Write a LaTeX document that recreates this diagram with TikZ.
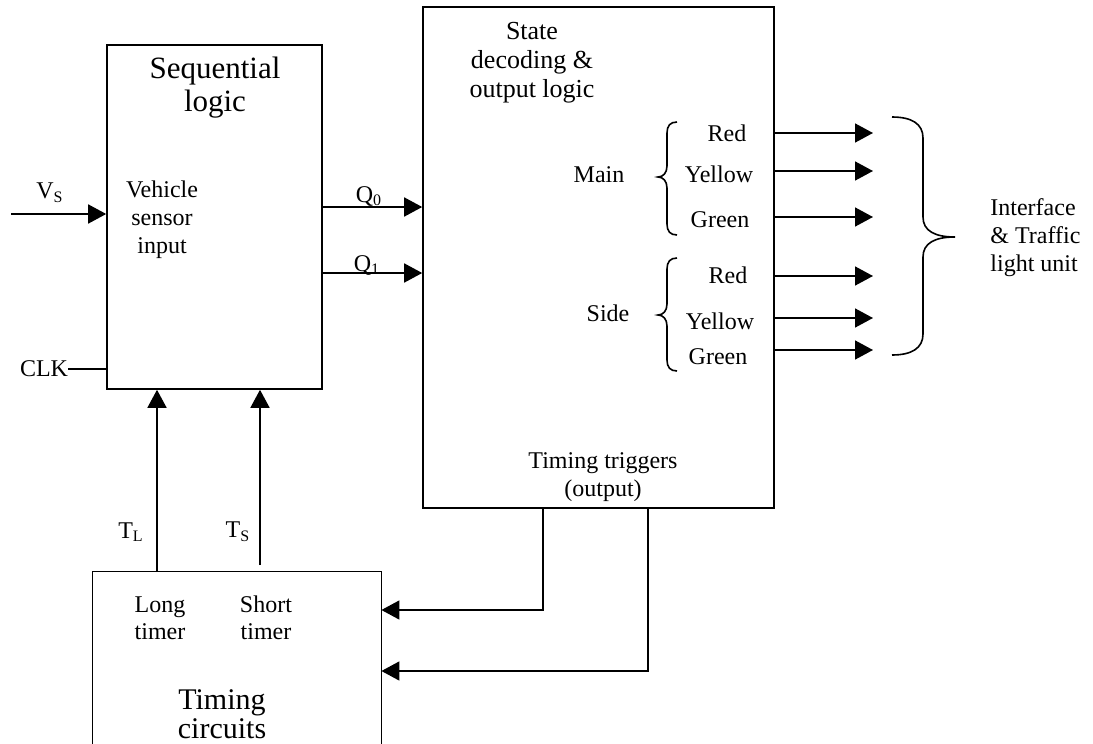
\documentclass[tikz,border=0pt]{standalone}
\usepackage{fontspec}
\setmainfont{Liberation Serif}
\usepackage{tikz}
\usetikzlibrary{arrows.meta,positioning,calc,fit}

\begin{document}
\begin{tikzpicture}[x=0.5pt,y=-0.5pt,
  blk/.style={draw,line width=0.8pt,inner sep=0pt},
  wire/.style={line width=0.8pt},
  arr/.style={line width=0.8pt,-{Triangle[length=9pt,width=9.5pt]}},
  txt/.style={font=\fontsize{12}{14}\selectfont,align=center,inner sep=0pt}]
  \useasboundingbox (0,0) rectangle (1093,744);

  % sequential logic box
  \node[blk,fit={(107,45) (322,389)}] (seq) {};
  \node[txt,font=\fontsize{15.5}{16.5}\selectfont] (seqname) at (215,88) {Sequential\\logic};
  \node[txt] (vsense) at (162,220) {Vehicle\\sensor\\input};

  % state decoding box
  \node[blk,fit={(423,7) (774,508)}] (state) {};
  \node[txt,font=\fontsize{13}{14.5}\selectfont] (statename) at (532,63) {State\\decoding \&\\output logic};
  \node[txt] (main) at (599,175) {Main};
  \node[txt] (side) at (608,313) {Side};
  \node[txt] (mred) at (727,133) {Red};
  \node[txt] (myel) at (719,174) {Yellow};
  \node[txt] (mgrn) at (720,220) {Green};
  \node[txt] (sred) at (728,275) {Red};
  \node[txt] (syel) at (720,321) {Yellow};
  \node[txt] (sgrn) at (718,357) {Green};
  \node[txt] (trig) at (603,477) {Timing triggers\\(output)};

  % timing box (cut off at the bottom)
  \node[inner sep=0pt,fit={(93,572) (381,744)}] (tim) {};
  \draw[wire] (tim.south west) |- (tim.north east) -- (tim.south east);
  \node[txt,font=\fontsize{12}{13.5}\selectfont] (long) at (160,618) {Long\\timer};
  \node[txt,font=\fontsize{12}{13.5}\selectfont] (short) at (266,618) {Short\\timer};
  \node[txt,font=\fontsize{15}{14.5}\selectfont] (timname) at (222,714) {Timing\\circuits};

  % inputs
  \coordinate (vsin) at (11,214);
  \draw[arr] (vsin) -- (vsin -| seq.west);
  \node[txt] (vslbl) at (50,193) {V\textsubscript{S}};
  \node[txt] (clk) at (44,369) {CLK};
  \draw[wire] (clk.east) -- (clk.east -| seq.west);

  % state lines
  \coordinate (q0) at (322,207);
  \coordinate (q1) at (322,273);
  \draw[arr] (q0) -- (q0 -| state.west);
  \draw[arr] (q1) -- (q1 -| state.west);
  \node[txt] (q0lbl) at (369,196) {Q\textsubscript{0}};
  \node[txt] (q1lbl) at (367,265) {Q\textsubscript{1}};

  % timer signals
  \coordinate (tl) at (157,572);
  \coordinate (ts) at (260,565);
  \draw[arr] (tl) -- (tl |- seq.south);
  \draw[arr] (ts) -- (ts |- seq.south);
  \node[txt] (tllbl) at (131,532) {T\textsubscript{L}};
  \node[txt] (tslbl) at (238,532) {T\textsubscript{S}};

  % triggers back to the timers
  \coordinate (trl) at (543,610);
  \coordinate (trs) at (648,671);
  \draw[arr] (trl |- state.south) -- (trl) -- (trl -| tim.east);
  \draw[arr] (trs |- state.south) -- (trs) -- (trs -| tim.east);

  % lamp outputs
  \foreach \y [count=\i] in {133,171,217,276,318,350}{
    \coordinate (lamp\i) at (873,\y);
    \draw[arr] (lamp\i -| state.east) -- (lamp\i);
  }

  % braces
  \draw[wire] (677,122) .. controls (670,122) and (667,126) .. (667,133) -- (667,166)
    .. controls (667,173) and (663,177) .. (658,177)
    .. controls (663,177) and (667,181) .. (667,188) -- (667,224)
    .. controls (667,231) and (670,235) .. (677,235);
  \draw[wire] (677,258) .. controls (670,258) and (667,262) .. (667,269) -- (667,304)
    .. controls (667,311) and (663,315) .. (658,315)
    .. controls (663,315) and (667,319) .. (667,326) -- (667,360)
    .. controls (667,367) and (670,371) .. (677,371);
  \draw[wire] (892,117) .. controls (912,117) and (923,124) .. (923,138) -- (923,217)
    .. controls (923,231) and (935,237) .. (955,237)
    .. controls (935,237) and (923,243) .. (923,257) -- (923,334)
    .. controls (923,348) and (912,355) .. (892,355);
  \node[txt,align=left,anchor=west] (iface) at (990,238) {Interface\\\& Traffic\\light unit};

\end{tikzpicture}
\end{document}
